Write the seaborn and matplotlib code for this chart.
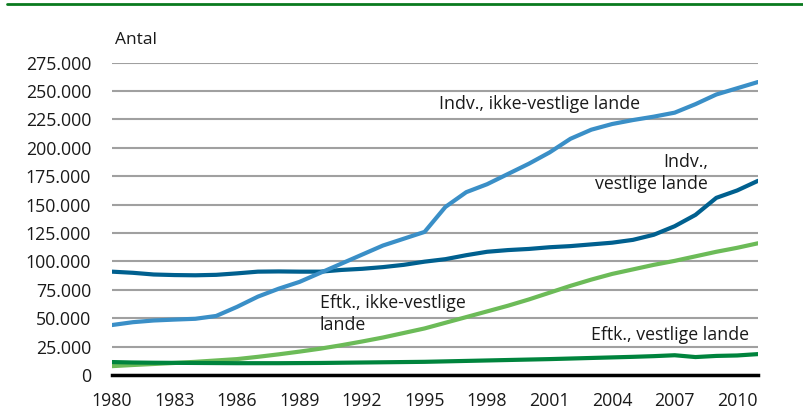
import numpy as np
import pandas as pd
import matplotlib
matplotlib.use("Agg")
import matplotlib.pyplot as plt
from matplotlib.ticker import FuncFormatter, FixedLocator
from matplotlib.lines import Line2D
import seaborn as sns

years = list(range(1980, 2012))

indv_ikke_vestlige = [44000, 46500, 48000, 48800, 49500, 52000, 60000, 69000, 76000, 82000,
                      90000, 98000, 106000, 114000, 120000, 126000, 148000, 161000, 168000, 177000,
                      186000, 196000, 208000, 216000, 221000, 224500, 227500, 231000, 238500, 247000,
                      252500, 258000]
indv_vestlige = [91000, 90000, 88500, 88000, 87800, 88200, 89500, 91000, 91200, 91000,
                 91000, 92500, 93500, 95000, 97000, 99800, 102000, 105500, 108500, 110000,
                 111000, 112500, 113500, 115000, 116500, 119000, 123500, 131000, 141000, 156000,
                 162500, 171000]
eftk_ikke_vestlige = [7800, 8800, 9700, 10600, 11600, 12800, 14000, 16000, 18200, 20600,
                      23200, 26200, 29500, 33000, 37000, 41000, 46000, 51000, 56000, 61000,
                      66500, 72500, 78500, 84000, 89000, 93000, 97000, 100500, 104500, 108500,
                      112000, 116000]
eftk_vestlige = [11400, 11000, 10800, 10700, 10600, 10500, 10400, 10400, 10400, 10500,
                 10600, 10800, 11000, 11200, 11400, 11600, 12000, 12400, 12800, 13200,
                 13600, 14000, 14500, 15000, 15500, 16000, 16600, 17400, 15800, 16800,
                 17200, 18400]

series_names = ["Indv., ikke-vestlige lande", "Indv., vestlige lande",
                "Eftk., ikke-vestlige lande", "Eftk., vestlige lande"]
y_ticks = [0, 25000, 50000, 75000, 100000, 125000, 150000, 175000, 200000, 225000, 250000, 275000]
x_ticks = [1980, 1983, 1986, 1989, 1992, 1995, 1998, 2001, 2004, 2007, 2010]

df = pd.DataFrame({
    "year": years * 4,
    "value": indv_ikke_vestlige + indv_vestlige + eftk_ikke_vestlige + eftk_vestlige,
    "series": sum([[n] * len(years) for n in series_names], []),
})

sns.set_theme(style="white")
plt.rcParams["font.family"] = ["Open Sans", "DejaVu Sans"]

palette = {
    series_names[0]: "#3a8fc7",
    series_names[1]: "#00608f",
    series_names[2]: "#6cbb58",
    series_names[3]: "#00843d",
}

fig = plt.figure(figsize=(8.04, 4.19), dpi=100)
ax = fig.add_axes([112 / 804, 1 - 375 / 419, (758 - 112) / 804, (375 - 62.7) / 419])

sns.lineplot(data=df, x="year", y="value", hue="series", palette=palette,
             hue_order=[series_names[1], series_names[0], series_names[2], series_names[3]],
             linewidth=3.0, legend=False, ax=ax, zorder=3)

ax.set_xlim(1980, 2011)
ax.set_ylim(0, 275000)
ax.yaxis.set_major_locator(FixedLocator(y_ticks))
ax.xaxis.set_major_locator(FixedLocator(x_ticks))
ax.yaxis.set_major_formatter(FuncFormatter(lambda v, p: f"{int(v):,}".replace(",", ".")))
ax.grid(axis="y", color="#a0a0a0", linewidth=1.5, zorder=0)
ax.grid(axis="x", visible=False)
for s in ["left", "right", "top"]:
    ax.spines[s].set_visible(False)
ax.spines["bottom"].set_color("black")
ax.spines["bottom"].set_linewidth(2.5)
ax.spines["bottom"].set_zorder(4)
ax.tick_params(axis="y", length=0, pad=15, labelsize=12.8, labelcolor="#1a1a1a")
ax.tick_params(axis="x", length=0, pad=12, labelsize=12.8, labelcolor="#1a1a1a")
ax.set_xlabel("")
ax.set_ylabel("")

fig.text(115 / 804, 1 - 40 / 419, "Antal", fontsize=12.5, va="center", ha="left", color="#1a1a1a")

tkw = dict(fontsize=12.8, color="#1a1a1a")
fig.text(439 / 804, 1 - 104 / 419, "Indv., ikke-vestlige lande", va="center", ha="left", **tkw)
fig.text(708 / 804, 1 - 173 / 419, "Indv.,\nvestlige lande", va="center", ha="right",
         multialignment="right", linespacing=1.3, **tkw)
fig.text(320 / 804, 1 - 314 / 419, "Eftk., ikke-vestlige\nlande", va="center", ha="left",
         linespacing=1.3, **tkw)
fig.text(591 / 804, 1 - 335 / 419, "Eftk., vestlige lande", va="center", ha="left", **tkw)

fig.add_artist(Line2D([7 / 804, 1.0], [1 - 4 / 419, 1 - 4 / 419], transform=fig.transFigure,
                      color="#0a7a1e", linewidth=2))

fig.savefig("out.png", dpi=100)
